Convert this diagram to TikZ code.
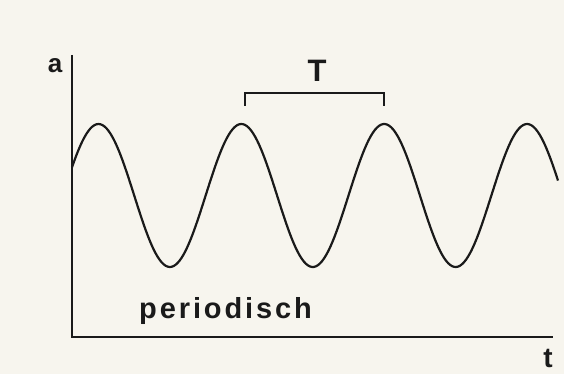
\documentclass[tikz,border=0pt]{standalone}
\usepackage{fontspec}
\setmainfont{Liberation Sans}
\newfontfamily\spaced[LetterSpace=10]{Liberation Sans}
\definecolor{paper}{HTML}{F7F5EE}
\definecolor{ink}{HTML}{1A1A1A}
\begin{document}
\begin{tikzpicture}[x=1pt,y=-1pt,
  lbl/.style={inner sep=0pt,text=ink,font=\bfseries},
  ln/.style={draw=ink,line width=2.2pt}]
\fill[paper] (0,0) rectangle (564,374);
\useasboundingbox (0,0) rectangle (564,374);
% axes
\coordinate (ytop) at (72,55);
\coordinate (orig) at (72,337);
\coordinate (xend) at (553,337);
\draw[ln] (ytop) -- (orig) -- (xend);
% wave
\draw[ln,line join=round] plot[domain=72:558,samples=240,smooth] (\x,{195.5-71.5*cos(2.52*(\x-98.5))});
% bracket
\coordinate (bl) at (245,106);
\coordinate (bl2) at (245,93);
\coordinate (br2) at (384,93);
\coordinate (br) at (384,106);
\draw[ln,line width=1.8pt] (bl) -- (bl2) -- (br2) -- (br);
% labels
\node[lbl,font=\bfseries\fontsize{26}{26}\selectfont,anchor=base] (a) at (55,73) {a};
\node[lbl,font=\bfseries\fontsize{31}{31}\selectfont,anchor=base] (T) at (317,82) {T};
\node[lbl,font=\bfseries\fontsize{28}{28}\selectfont,anchor=base] (t) at (548,367) {t};
\node[lbl,font=\spaced\bfseries\fontsize{29}{29}\selectfont,anchor=base west] (per) at (139,318) {periodisch};
\end{tikzpicture}
\end{document}
